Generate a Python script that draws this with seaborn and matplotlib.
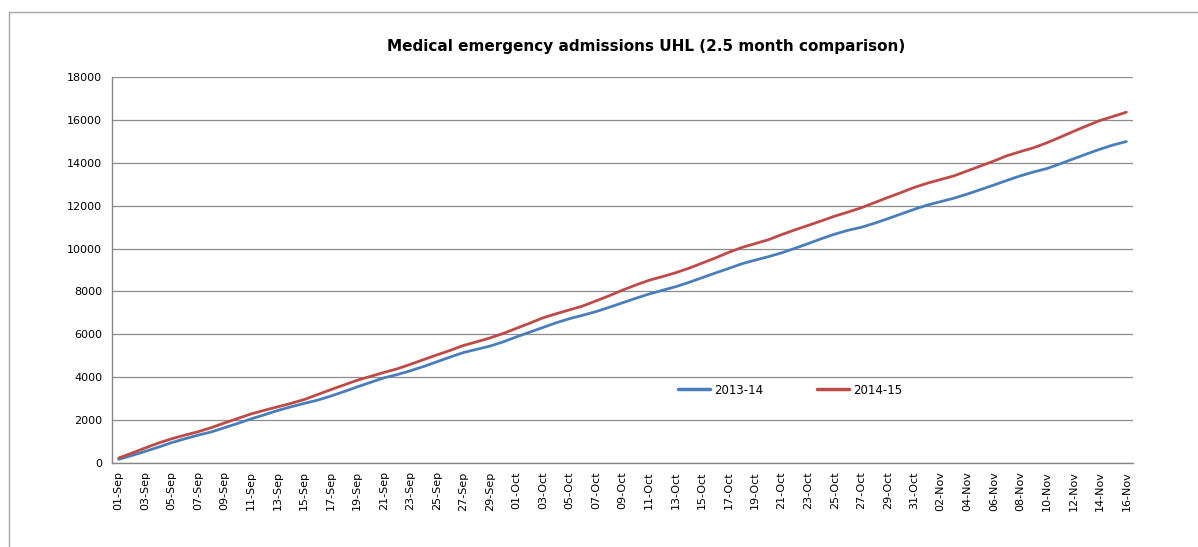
import matplotlib
matplotlib.use("Agg")
import matplotlib.pyplot as plt
from matplotlib.lines import Line2D
import seaborn as sns
import pandas as pd
import numpy as np

# ---- data ----
dates = pd.date_range("2014-09-01", "2014-11-16", freq="D")
day_labels = [d.strftime("%d-%b") for d in dates]

series_2013_14 = [
    170, 350, 540, 740, 950, 1130, 1300, 1450, 1650, 1850,
    2060, 2250, 2450, 2620, 2780, 2930, 3120, 3330, 3550, 3760,
    3970, 4120, 4300, 4500, 4720, 4940, 5150, 5300, 5450, 5650,
    5880, 6100, 6320, 6540, 6730, 6890, 7060, 7260, 7470, 7680,
    7880, 8050, 8220, 8420, 8640, 8860, 9070, 9290, 9460, 9620,
    9800, 10010, 10230, 10460, 10670, 10850, 10990, 11180, 11390, 11610,
    11830, 12030, 12190, 12350, 12540, 12750, 12960, 13180, 13390, 13570,
    13730, 13950, 14180, 14410, 14630, 14830, 14990,
]
series_2014_15 = [
    230, 460, 700, 930, 1130, 1300, 1460, 1650, 1870, 2080,
    2290, 2460, 2620, 2780, 2960, 3190, 3420, 3640, 3860, 4040,
    4220, 4390, 4600, 4820, 5040, 5250, 5480, 5650, 5830, 6040,
    6280, 6520, 6770, 6960, 7140, 7320, 7560, 7800, 8060, 8300,
    8520, 8690, 8870, 9080, 9320, 9560, 9820, 10050, 10230, 10410,
    10650, 10870, 11080, 11290, 11510, 11700, 11900, 12140, 12380, 12610,
    12850, 13050, 13220, 13390, 13620, 13850, 14080, 14330, 14520, 14700,
    14930, 15190, 15460, 15720, 15970, 16160, 16360,
]
season_names = ["2013-14", "2014-15"]
title = "Medical emergency admissions UHL (2.5 month comparison)"

n = len(day_labels)
df = pd.DataFrame({
    "day": list(range(n)) * 2,
    "admissions": series_2013_14 + series_2014_15,
    "season": [season_names[0]] * n + [season_names[1]] * n,
})

# ---- style ----
sns.set_style("white")
plt.rcParams["font.family"] = ["DejaVu Sans"]
plt.rcParams["text.color"] = "black"
plt.rcParams["xtick.color"] = "black"
plt.rcParams["ytick.color"] = "black"

fig = plt.figure(figsize=(11.98, 5.47), dpi=100)
ax = fig.add_axes([112 / 1198, 1 - 463 / 547, (1133 - 112) / 1198, (463 - 77) / 547])

palette = {"2013-14": "#4a7ebb", "2014-15": "#be4b48"}
sns.lineplot(data=df, x="day", y="admissions", hue="season", palette=palette,
             linewidth=2.0, ax=ax, legend=True)

ax.set_xlim(-0.5, n - 0.5)
ax.set_ylim(0, 18000)
ax.set_yticks(np.arange(0, 18001, 2000))
ax.set_yticklabels([str(v) for v in range(0, 18001, 2000)], fontsize=8)
ax.yaxis.grid(True, color="#8c8c8c", linewidth=0.9)
ax.set_axisbelow(True)

ax.set_xticks(list(range(0, n, 2)))
ax.set_xticklabels(day_labels[::2], rotation=90, fontsize=8)
ax.set_xticks(list(np.arange(-0.5, n - 1, 2)), minor=True)
ax.tick_params(axis="x", which="major", length=0, pad=6, labelcolor="black")
ax.tick_params(axis="x", which="minor", length=4, color="#868686", width=0.9, direction="out")
ax.tick_params(axis="y", length=4, color="#868686", width=0.9, direction="out", pad=3,
               labelcolor="black")

for s in ["top", "right"]:
    ax.spines[s].set_visible(False)
for s in ["left", "bottom"]:
    ax.spines[s].set_color("#868686")
    ax.spines[s].set_linewidth(1.0)

ax.set_xlabel("")
ax.set_ylabel("")

leg = ax.legend(loc="center", bbox_to_anchor=(790 / 1198, 1 - 390 / 547),
                bbox_transform=fig.transFigure, ncol=2, frameon=False,
                fontsize=8.5, handlelength=2.7, handletextpad=0.35,
                columnspacing=4.6)
for line in leg.get_lines():
    line.set_linewidth(2.5)
for t in leg.get_texts():
    t.set_color("black")

fig.text(646 / 1198, 1 - 46 / 547, title, ha="center", va="center",
         fontsize=11, fontweight="bold", color="black")

# outer chart border
fig.add_artist(Line2D([9 / 1198, 9 / 1198], [0, 1 - 12 / 547],
                      transform=fig.transFigure, color="#a6a6a6", linewidth=1.0))
fig.add_artist(Line2D([9 / 1198, 1], [1 - 12 / 547, 1 - 12 / 547],
                      transform=fig.transFigure, color="#a6a6a6", linewidth=1.0))

fig.savefig("out.png", dpi=100)
